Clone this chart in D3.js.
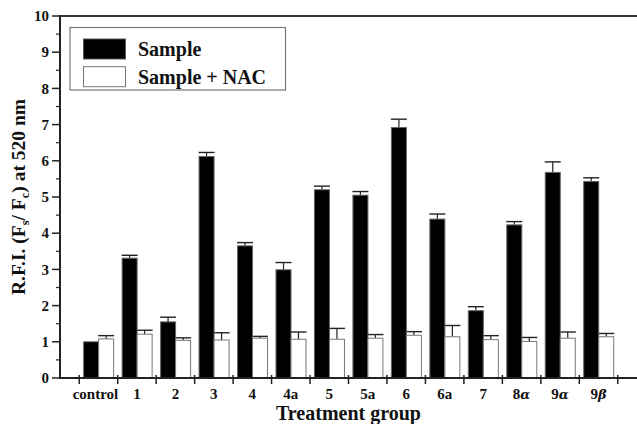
<!DOCTYPE html>
<html>
<head>
<meta charset="utf-8">
<script src="https://cdn.jsdelivr.net/npm/d3@7"></script>
<style>
  html, body { margin: 0; padding: 0; background: #fff; }
  svg { display: block; }
  text { font-family: "Liberation Serif", "Times New Roman", serif; font-weight: bold; fill: #111; }
</style>
</head>
<body>
<svg id="chart" width="637" height="424"></svg>
<script>
// ---- data ----
const categories = ["control", "1", "2", "3", "4", "4a", "5", "5a", "6", "6a", "7", "8α", "9α", "9β"];
const sampleValues = [1.00, 3.31, 1.55, 6.12, 3.65, 2.99, 5.20, 5.05, 6.92, 4.39, 1.86, 4.23, 5.68, 5.43];
const sampleErrors = [0.00, 0.08, 0.13, 0.11, 0.09, 0.20, 0.10, 0.10, 0.23, 0.14, 0.11, 0.09, 0.29, 0.10];
const nacValues    = [1.08, 1.21, 1.04, 1.05, 1.10, 1.07, 1.07, 1.10, 1.18, 1.14, 1.06, 1.01, 1.10, 1.14];
const nacErrors    = [0.09, 0.11, 0.07, 0.20, 0.05, 0.20, 0.30, 0.10, 0.10, 0.31, 0.11, 0.11, 0.17, 0.09];
const yTicks = [0, 1, 2, 3, 4, 5, 6, 7, 8, 9, 10];
const legendLabels = ["Sample", "Sample + NAC"];

const svg = d3.select("#chart");
const mLeft = 60, mRight = 637, mTop = 16, mBottom = 378;

const y = d3.scaleLinear().domain([0, 10]).range([mBottom, mTop]);
// axis spans half a category beyond the outer tick marks
const xAxisScale = d3.scaleLinear().domain([-0.5, categories.length + 0.5]).range([mLeft, mRight]);
const x = d3.scaleBand().domain(categories)
  .range([xAxisScale(0), xAxisScale(categories.length)]).padding(0);
const bw = x.bandwidth();
const barW = bw * 0.39;
const barOff = bw * 0.115;

// ---- bars ----
const g = svg.append("g");
const rows = categories.map((c, i) => ({
  c, s: sampleValues[i], se: sampleErrors[i], n: nacValues[i], ne: nacErrors[i]
}));

function errBars(key, ekey, xo) {
  const eg = g.append("g");
  rows.forEach(d => {
    if (d[ekey] <= 0) return;
    const cx = x(d.c) + xo + barW / 2;
    eg.append("line").attr("x1", cx).attr("x2", cx)
      .attr("y1", y(d[key])).attr("y2", y(d[key] + d[ekey]))
      .attr("stroke", "#222").attr("stroke-width", 1.2);
    eg.append("line").attr("x1", cx - barW / 2 - 0.5).attr("x2", cx + barW / 2 + 0.5)
      .attr("y1", y(d[key] + d[ekey])).attr("y2", y(d[key] + d[ekey]))
      .attr("stroke", "#222").attr("stroke-width", 1.4);
  });
}
errBars("s", "se", barOff);
errBars("n", "ne", barOff + barW);

g.selectAll("rect.s").data(rows).join("rect").attr("class", "s")
  .attr("x", d => x(d.c) + barOff)
  .attr("y", d => y(d.s))
  .attr("width", barW)
  .attr("height", d => y(0) - y(d.s))
  .attr("fill", "#000").attr("stroke", "#666").attr("stroke-width", 1);

g.selectAll("rect.n").data(rows).join("rect").attr("class", "n")
  .attr("x", d => x(d.c) + barOff + barW)
  .attr("y", d => y(d.n))
  .attr("width", barW)
  .attr("height", d => y(0) - y(d.n))
  .attr("fill", "#fff").attr("stroke", "#777").attr("stroke-width", 1);

// ---- axes ----
const ax = svg.append("g");
ax.append("line").attr("x1", mLeft).attr("x2", mRight).attr("y1", mTop).attr("y2", mTop)
  .attr("stroke", "#333").attr("stroke-width", 2);
ax.append("line").attr("x1", mLeft).attr("x2", mLeft).attr("y1", mTop - 1).attr("y2", mBottom + 1)
  .attr("stroke", "#222").attr("stroke-width", 2);
ax.append("line").attr("x1", mLeft).attr("x2", mRight).attr("y1", mBottom).attr("y2", mBottom)
  .attr("stroke", "#222").attr("stroke-width", 2);

yTicks.forEach(t => {
  ax.append("line").attr("x1", mLeft - 8).attr("x2", mLeft).attr("y1", y(t)).attr("y2", y(t))
    .attr("stroke", "#222").attr("stroke-width", 1.5);
  ax.append("text").attr("x", mLeft - 11).attr("y", y(t)).attr("dy", "0.35em")
    .attr("text-anchor", "end").attr("font-size", 15).text(t);
});
yTicks.slice(0, -1).forEach(t => {
  ax.append("line").attr("x1", mLeft - 4).attr("x2", mLeft).attr("y1", y(t + 0.5)).attr("y2", y(t + 0.5))
    .attr("stroke", "#222").attr("stroke-width", 1.2);
});

const bounds = categories.map(c => x(c)).concat([x(categories[categories.length - 1]) + bw]);
bounds.forEach(bx => {
  ax.append("line").attr("x1", bx).attr("x2", bx).attr("y1", mBottom - 3).attr("y2", mBottom + 6)
    .attr("stroke", "#222").attr("stroke-width", 1.5);
});
categories.forEach(c => {
  const t = ax.append("text").attr("x", x(c) + bw / 2 - (c === "control" ? 3 : 0)).attr("y", 398.5)
    .attr("text-anchor", "middle").attr("font-size", 15);
  const m = c.match(/^(\d)([αβ])$/);
  if (m) {
    t.append("tspan").text(m[1]);
    t.append("tspan").attr("font-style", "italic").attr("font-family", "DejaVu Serif")
      .attr("font-size", 13).text(m[2]);
  } else {
    t.text(c);
  }
});

svg.append("text").attr("x", (mLeft + mRight) / 2).attr("y", 420)
  .attr("text-anchor", "middle").attr("font-size", 20).text("Treatment group");

const yl = svg.append("text")
  .attr("transform", `translate(24.5,${(mTop + mBottom) / 2}) rotate(-90)`)
  .attr("text-anchor", "middle").attr("font-size", 19.5);
yl.append("tspan").text("R.F.I. (F");
yl.append("tspan").attr("font-size", 12.5).attr("dy", 4).text("s");
yl.append("tspan").attr("dy", -4).text("/ F");
yl.append("tspan").attr("font-size", 12.5).attr("dy", 4).text("c");
yl.append("tspan").attr("dy", -4).text(") at 520 nm");

// ---- legend ----
const lg = svg.append("g");
lg.append("rect").attr("x", 70).attr("y", 27.5).attr("width", 215.5).attr("height", 62.5)
  .attr("fill", "#fff").attr("stroke", "#777").attr("stroke-width", 1.2);
const sw = [{ fill: "#000", stroke: "#555" }, { fill: "#fff", stroke: "#777" }];
legendLabels.forEach((lab, i) => {
  const yy = 39 + i * 27.7;
  lg.append("rect").attr("x", 83.5).attr("y", yy).attr("width", 42).attr("height", 20)
    .attr("fill", sw[i].fill).attr("stroke", sw[i].stroke).attr("stroke-width", 1);
  lg.append("text").attr("x", 138).attr("y", yy + 17).attr("font-size", 20).text(lab);
});
</script>
</body>
</html>
